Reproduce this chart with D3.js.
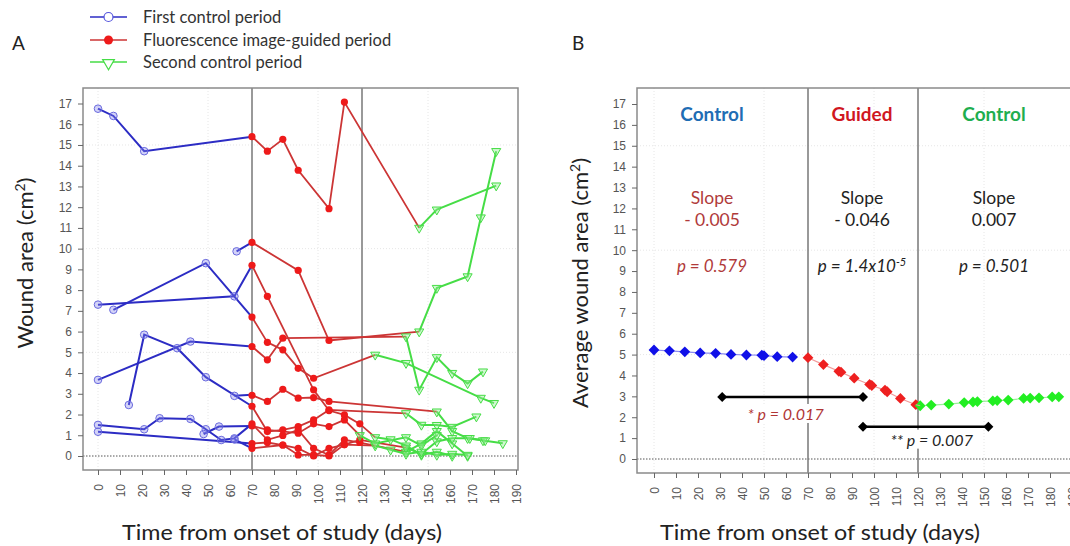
<!DOCTYPE html>
<html>
<head>
<meta charset="utf-8">
<script src="https://cdn.jsdelivr.net/npm/d3@7"></script>
<style>
body { margin: 0; background: #fff; }
svg { display: block; font-family: Lato, "Open Sans", sans-serif; }
.tick text { font-family: "Liberation Sans", Arial, sans-serif; font-size: 12px; fill: #555; }
.tick line { stroke: #666; }
</style>
</head>
<body>
<svg id="chart" width="1070" height="546"></svg>
<script>
// ---- Panel A: individual wounds, [day, area] per wound and period ----
var firstPeriod = [
    [[0,16.75],[7,16.4],[21,14.7],[70,15.4]],
    [[63,9.87],[70,10.3]],
    [[0,7.3],[62,7.7],[70,9.2]],
    [[7,7.05],[49,9.3],[70,6.7]],
    [[0,3.67],[42,5.52],[70,5.28]],
    [[14,2.46],[21,5.85],[36,5.2],[49,3.8],[70,2.4]],
    [[62,2.9],[70,2.95]],
    [[0,1.5],[21,1.29],[28,1.82],[42,1.79],[49,1.29],[56,0.77],[62,0.85],[70,1.55]],
    [[48,1.06],[55,1.42],[70,1.45]],
    [[0,1.17],[70,0.6]],
    [[62,0.8],[70,0.37]]
];
var guidedPeriod = [
    [[70,15.4],[77,14.7],[84,15.27],[91,13.78],[105,11.93],[112,17.07],[146,11.0]],
    [[70,10.3],[91,8.95],[105,5.57],[146,6.0]],
    [[70,9.2],[77,7.7],[98,3.19],[105,2.19],[112,1.98],[119,1.55],[126,0.9]],
    [[70,6.7],[77,5.48],[84,5.12],[91,4.23],[98,3.75],[126,4.88]],
    [[70,5.28],[77,4.64],[84,5.68],[140,5.76]],
    [[70,2.93],[77,2.63],[84,3.22],[91,2.79],[98,2.82],[105,2.63],[154,2.14]],
    [[70,2.4],[77,1.18],[84,1.26],[91,1.42],[98,1.74],[105,2.22],[140,2.06]],
    [[70,1.55],[77,0.78],[84,0.99],[91,1.26],[98,0.37],[105,0.05],[112,0.78],[119,0.65],[140,0.2]],
    [[70,0.6],[77,0.65],[84,0.53],[91,0.37],[98,0.0],[105,0.37],[112,0.55],[119,0.78],[140,0.4]],
    [[70,0.37],[84,0.53],[91,0.05],[98,0.05],[105,0.0],[112,0.55],[126,0.5]],
    [[70,1.45],[77,1.26],[91,1.1],[98,1.55],[105,1.42],[112,1.74],[119,1.0]]
];
var secondPeriod = [
    [[146,11.0],[154,11.88],[181,13.04]],
    [[146,6.0],[154,8.1],[168,8.66],[174,11.5],[181,14.7]],
    [[140,5.76],[146,3.19],[154,4.76],[161,4.0],[168,3.5],[175,4.07]],
    [[126,4.88],[140,4.48],[174,2.8],[180,2.55]],
    [[154,2.14],[161,1.2],[168,0.86],[175,0.75],[184,0.61]],
    [[140,2.06],[147,1.5],[154,1.49],[161,1.4],[172,1.9]],
    [[126,0.9],[133,0.8],[140,0.5],[147,0.05],[154,0.2],[161,0.0]],
    [[140,0.2],[147,0.6],[154,1.2],[161,0.6],[168,0.0]],
    [[140,0.4],[147,0.1],[154,0.7],[161,0.86],[169,0.86],[176,0.75]],
    [[126,0.5],[133,0.3],[140,0.1],[147,0.2],[154,0.05],[161,0.1],[168,0.05]],
    [[119,1.0],[126,0.6],[140,0.9],[147,0.5],[154,1.0]]
];
var legendLabels = ["First control period", "Fluorescence image-guided period", "Second control period"];

// ---- Panel B: average wound area ----
var avgFirstDays = [0,7,14,21,28,35,42,49,50,56,63];
var avgFirstVals = [5.22,5.18,5.13,5.08,5.06,5.01,4.98,4.97,4.95,4.90,4.88];
var avgGuidedDays = [70,77,84,85,91,98,99,105,106,112,119];
var avgGuidedVals = [4.85,4.52,4.2,4.16,3.87,3.57,3.52,3.3,3.22,2.9,2.6];
var avgSecondDays = [121,126,134,141,145,147,154,156,161,168,171,175,181,184];
var avgSecondVals = [2.55,2.58,2.63,2.7,2.73,2.75,2.78,2.8,2.82,2.9,2.92,2.93,2.97,2.98];
var compareBars = [
    {from: 31, to: 95, value: 2.97, label: "* p = 0.017", color: "#b03535"},
    {from: 95, to: 152, value: 1.55, label: "** p = 0.007", color: "#222"}
];
var periodNames = ["Control", "Guided", "Control"];
var periodColors = ["#1f6db4", "#d0171f", "#1fae4f"];
var slopeValues = ["- 0.005", "- 0.046", "0.007"];
var pValues = ["0.579", "1.4x10", "0.501"];

var dayTicks = d3.range(0, 191, 10);
var areaTicks = d3.range(0, 18, 1);

var svg = d3.select("#chart");

var BLUE = "#2c2cc4", RED = "#cc3535", GREEN = "#46dd46";

// shared frame drawing
function drawFrame(g, x, y, box) {
    // faint grid
    g.selectAll("line.gx").data([0, 50, 100, 150]).enter().append("line")
        .attr("x1", d => x(d)).attr("x2", d => x(d))
        .attr("y1", box.top).attr("y2", box.bottom)
        .attr("stroke", "#e6e6e6").attr("stroke-dasharray", "1,2");
    g.selectAll("line.gy").data([5, 10, 15]).enter().append("line")
        .attr("x1", box.left).attr("x2", box.right)
        .attr("y1", d => y(d)).attr("y2", d => y(d))
        .attr("stroke", "#e6e6e6").attr("stroke-dasharray", "1,2");
    // dotted zero line
    g.append("line")
        .attr("x1", box.left).attr("x2", box.right)
        .attr("y1", y(0)).attr("y2", y(0))
        .attr("stroke", "#555").attr("stroke-dasharray", "1.5,1.5");
    // period separators
    g.selectAll("line.sep").data([70, 120]).enter().append("line")
        .attr("x1", d => x(d)).attr("x2", d => x(d))
        .attr("y1", box.top).attr("y2", box.bottom)
        .attr("stroke", "#777").attr("stroke-width", 1.5);
    // box
    g.append("rect")
        .attr("x", box.left).attr("y", box.top)
        .attr("width", box.right - box.left).attr("height", box.bottom - box.top)
        .attr("fill", "none").attr("stroke", "#8a8a8a").attr("stroke-width", 1.5);

    var ya = g.append("g").attr("transform", "translate(" + box.left + ",0)")
        .call(d3.axisLeft(y).tickValues(areaTicks).tickSize(5).tickPadding(6));
    ya.select(".domain").remove();

    var xa = g.append("g").attr("transform", "translate(0," + box.bottom + ")")
        .call(d3.axisBottom(x).tickValues(dayTicks).tickSize(5));
    xa.select(".domain").remove();
    xa.selectAll(".tick text")
        .attr("x", 0).attr("y", 0).attr("dy", "0.35em")
        .attr("text-anchor", "end")
        .attr("transform", "translate(0,14) rotate(-90)");
}

// ================= Panel A =================
var boxA = {left: 83, right: 518, top: 88, bottom: 470};
var xA = d3.scaleLinear().domain([0, 190]).range([98, 516]);
var yA = d3.scaleLinear().domain([0, 17]).range([456, 103.5]);
var gA = svg.append("g");
drawFrame(gA, xA, yA, boxA);

var lineA = d3.line().x(d => xA(d[0])).y(d => yA(d[1]));
var triangle = d3.symbol().type(d3.symbolTriangle).size(36);

// blue
gA.selectAll("path.first").data(firstPeriod).enter().append("path")
    .attr("d", lineA).attr("fill", "none").attr("stroke", BLUE).attr("stroke-width", 2);
gA.selectAll("circle.first").data(firstPeriod.flatMap(s => s.slice(0, -1))).enter().append("circle")
    .attr("cx", d => xA(d[0])).attr("cy", d => yA(d[1])).attr("r", 3.8)
    .attr("fill", "rgba(130,130,235,0.35)").attr("stroke", "#6a6ade").attr("stroke-width", 1);

// red
gA.selectAll("path.guided").data(guidedPeriod).enter().append("path")
    .attr("d", lineA).attr("fill", "none").attr("stroke", RED).attr("stroke-width", 1.8);
gA.selectAll("circle.guided").data(guidedPeriod.flatMap(s => s.slice(0, -1))).enter().append("circle")
    .attr("cx", d => xA(d[0])).attr("cy", d => yA(d[1])).attr("r", 3.6)
    .attr("fill", "#ee1a1a");

// green
gA.selectAll("path.second").data(secondPeriod).enter().append("path")
    .attr("d", lineA).attr("fill", "none").attr("stroke", GREEN).attr("stroke-width", 2);
gA.selectAll("path.tri").data(secondPeriod.flat()).enter().append("path")
    .attr("d", triangle)
    .attr("transform", d => "translate(" + xA(d[0]) + "," + yA(d[1]) + ") rotate(180)")
    .attr("fill", "rgba(140,235,140,0.4)").attr("stroke", GREEN).attr("stroke-width", 1);

// legend
var legendY = [17, 40, 62];
var legendColors = [BLUE, RED, GREEN];
legendLabels.forEach(function (lab, i) {
    var lg = svg.append("g").attr("transform", "translate(0," + legendY[i] + ")");
    lg.append("line").attr("x1", 90).attr("x2", 127).attr("y1", 0).attr("y2", 0)
        .attr("stroke", legendColors[i]).attr("stroke-width", 1.5);
    if (i === 0) {
        lg.append("circle").attr("cx", 108.5).attr("cy", 0).attr("r", 4.5)
            .attr("fill", "#fff").attr("stroke", "#5555dd").attr("stroke-width", 1.2);
    } else if (i === 1) {
        lg.append("circle").attr("cx", 108.5).attr("cy", 0).attr("r", 4.5).attr("fill", "#ee1a1a");
    } else {
        lg.append("path").attr("d", d3.symbol().type(d3.symbolTriangle).size(60))
            .attr("transform", "translate(108.5,1) rotate(180)")
            .attr("fill", "#fff").attr("stroke", GREEN).attr("stroke-width", 1.2);
    }
    lg.append("text").attr("x", 143).attr("y", 5.5).attr("font-size", 16.5).attr("fill", "#333").text(lab);
});

svg.append("text").attr("x", 12).attr("y", 50).attr("font-size", 19).attr("fill", "#222").text("A");
svg.append("text").attr("x", 572).attr("y", 50).attr("font-size", 19).attr("fill", "#222").text("B");

function yTitle(x, y, label) {
    var t = svg.append("text").attr("transform", "translate(" + x + "," + y + ") rotate(-90)")
        .attr("text-anchor", "middle").attr("font-size", 22).attr("fill", "#222");
    t.append("tspan").text(label + " (cm");
    t.append("tspan").attr("font-size", 14).attr("baseline-shift", "super").text("2");
    t.append("tspan").text(")");
}
function xTitle(cx) {
    svg.append("text").attr("x", cx).attr("y", 540).attr("text-anchor", "middle")
        .attr("font-size", 21).attr("fill", "#222")
        .attr("textLength", 320).attr("lengthAdjust", "spacingAndGlyphs")
        .text("Time from onset of study (days)");
}
yTitle(33, 263, "Wound area");
xTitle(282);

// ================= Panel B =================
var boxB = {left: 637, right: 1078, top: 88, bottom: 473};
var xB = d3.scaleLinear().domain([0, 190]).range([654, 1072]);
var yB = d3.scaleLinear().domain([0, 17]).range([459, 104]);
var gB = svg.append("g");
drawFrame(gB, xB, yB, boxB);

var lineB = d3.line().x(d => xB(d[0])).y(d => yB(d[1]));
var diamond = d3.symbol().type(d3.symbolSquare).size(58);
var avgSeries = [
    {days: avgFirstDays, vals: avgFirstVals, fill: "#1010e8", line: "#8a8af0"},
    {days: avgGuidedDays, vals: avgGuidedVals, fill: "#ee2020", line: "#f29a9a"},
    {days: avgSecondDays, vals: avgSecondVals, fill: "#22ee22", line: "#9af09a"}
];
avgSeries.forEach(function (s) {
    var pts = s.days.map((d, i) => [d, s.vals[i]]);
    gB.append("path").attr("d", lineB(pts)).attr("fill", "none")
        .attr("stroke", s.line).attr("stroke-width", 1.2);
    gB.selectAll(null).data(pts).enter().append("path")
        .attr("d", diamond)
        .attr("transform", d => "translate(" + xB(d[0]) + "," + yB(d[1]) + ") rotate(45)")
        .attr("fill", s.fill);
});
// connect red to the first green
gB.append("path").attr("d", lineB([[119, 2.6], [121, 2.55]])).attr("stroke", "#f29a9a").attr("fill", "none");

// comparison bars
var labelShift = [[-7, 23], [6, 19]];
compareBars.forEach(function (b, i) {
    var lx = xB((b.from + b.to) / 2) + labelShift[i][0];
    var ly = yB(b.value) + labelShift[i][1];
    var bg = gB.append("rect").attr("fill", "#fff");
    var t = gB.append("text").attr("x", lx).attr("y", ly).attr("text-anchor", "middle")
        .attr("font-size", 16).attr("font-style", "italic").attr("fill", b.color).text(b.label);
    var bb = t.node().getBBox();
    bg.attr("x", bb.x - 4).attr("y", bb.y).attr("width", bb.width + 8).attr("height", bb.height);
    gB.append("line").attr("x1", xB(b.from)).attr("x2", xB(b.to))
        .attr("y1", yB(b.value)).attr("y2", yB(b.value))
        .attr("stroke", "#000").attr("stroke-width", 2.5);
    gB.selectAll(null).data([b.from, b.to]).enter().append("path")
        .attr("d", d3.symbol().type(d3.symbolSquare).size(50))
        .attr("transform", d => "translate(" + xB(d) + "," + yB(b.value) + ") rotate(45)")
        .attr("fill", "#000");
});

// period annotations
var colCenters = [712, 862, 994];
var textCols = ["#b03a3a", "#222", "#222"];
colCenters.forEach(function (cx, i) {
    gB.append("text").attr("x", cx).attr("y", 121).attr("text-anchor", "middle")
        .attr("font-size", 19).attr("font-weight", "bold").attr("fill", periodColors[i]).text(periodNames[i]);
    gB.append("text").attr("x", cx).attr("y", 204).attr("text-anchor", "middle")
        .attr("font-size", 17.5).attr("fill", textCols[i]).text("Slope");
    gB.append("text").attr("x", cx).attr("y", 226).attr("text-anchor", "middle")
        .attr("font-size", 17.5).attr("fill", textCols[i]).text(slopeValues[i]);
    var p = gB.append("text").attr("x", cx).attr("y", 272).attr("text-anchor", "middle")
        .attr("font-size", 17).attr("font-style", "italic").attr("fill", textCols[i]);
    p.append("tspan").text((i === 1 ? "p  = " : "p = ") + pValues[i]);
    if (i === 1) p.append("tspan").attr("font-size", 11).attr("baseline-shift", "super").text("-5");
});

yTitle(588, 283, "Average wound area");
xTitle(820);
</script>
</body>
</html>
